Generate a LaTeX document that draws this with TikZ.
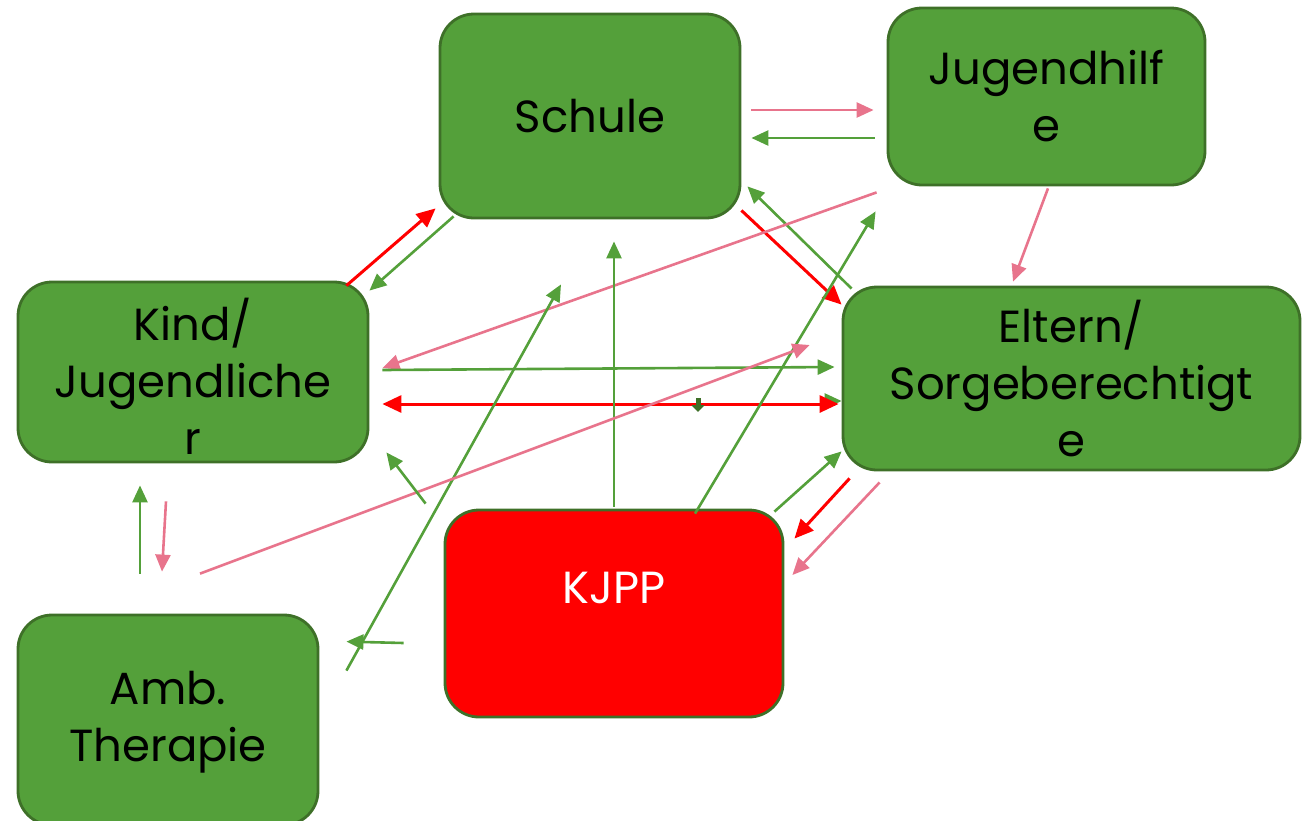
\documentclass[tikz,border=0pt]{standalone}
\usepackage{fontspec}
\setmainfont{Poppins}
\usetikzlibrary{arrows.meta,calc}
\definecolor{boxgreen}{RGB}{84,160,58}
\definecolor{boxborder}{RGB}{62,112,40}
\definecolor{lgreen}{RGB}{84,160,58}
\definecolor{lpink}{RGB}{232,116,140}
\definecolor{lred}{RGB}{255,0,0}
\tikzset{
  box/.style={draw=boxborder, line width=2.8pt, fill=boxgreen, rounded corners=34pt, font=\fontsize{45}{57}\selectfont, align=center, inner sep=0pt},
  ga/.style={draw=lgreen, line width=2.6pt, -{Triangle[length=17pt,width=15pt]}},
  pa/.style={draw=lpink, line width=2.6pt, -{Triangle[length=17pt,width=15pt]}},
  ra/.style={draw=lred, line width=3pt, -{Triangle[length=19pt,width=17pt]}},
}
\begin{document}
\begin{tikzpicture}[x=1pt,y=-1pt]
\useasboundingbox (0,0) rectangle (1309,820);
\node[box, minimum width=300pt, minimum height=204pt] (schule) at (590,116) {Schule};
\node[box, minimum width=317pt, minimum height=177pt] (jugend) at (1046.5,96.5) {Jugendhilf\\e};
\node[box, minimum width=350pt, minimum height=180pt] (kind) at (193,372) {};
\node[font=\fontsize{45}{57}\selectfont, align=center, inner sep=0pt] (kindtext) at (193,376) {Kind/\\Jugendliche\\r};
\node[box, minimum width=457pt, minimum height=183pt] (eltern) at (1071.5,378.5) {Eltern/\\Sorgeberechtigt\\e};
\node[box, fill=lred, minimum width=338pt, minimum height=207pt] (kjpp) at (614,613.5) {};
\node[font=\fontsize{45}{57}\selectfont, text=white] (kjpptext) at (614,588) {KJPP};
\node[box, minimum width=300pt, minimum height=210pt] (amb) at (168,720) {};
\node[font=\fontsize{45}{57}\selectfont, align=center, inner sep=0pt] (ambtext) at (168,722) {Amb.\\Therapie};

% arrows
\draw[ra] ($(kind.north east)+(-23,5)$) -- ($(schule.south west)+(-3,-11)$);
\draw[ga] ($(schule.south west)+(15,-3)$) -- ($(kind.north east)+(0,10)$);
\draw[pa] ($(schule.east)+(10,-6)$) -- ($(jugend.west)+(-13,13.5)$);
\draw[ga] ($(jugend.west)+(-12,41.5)$) -- ($(schule.east)+(10,22)$);
\draw[ra] ($(schule.south east)+(0,-9)$) -- ($(eltern.north west)+(0,19)$);
\draw[ga] ($(eltern.north west)+(10,3)$) -- ($(schule.south east)+(6,-33)$);
\draw[pa] ($(jugend.south west)+(-10,6)$) -- ($(kind.east)+(13,-4)$);
\draw[pa] ($(jugend.south)+(1.5,2)$) -- ($(eltern.north)+(-58.5,-4)$);
\draw[ga] ($(kind.east)+(13,-2)$) -- ($(eltern.west)+(-7,-11.5)$);
\draw[ga] ($(eltern.west)+(-14,22.5)$) -- ($(eltern.west)+(0,22.5)$);
\draw[ra, {Triangle[length=19pt,width=17pt]}-{Triangle[length=19pt,width=17pt]}] ($(kind.east)+(13,32)$) -- ($(eltern.west)+(-3,25.5)$);
\coordinate (m1) at (698,398);
\coordinate (m2) at (698,412);
\draw[draw=boxborder, line width=5pt, -{Triangle[length=7pt,width=13pt]}] (m1) -- (m2);
\draw[ga] ($(kjpp.north)+(0,-2)$) -- ($(schule.south)+(24,22)$);
\draw[ga] ($(kjpp.north)+(81,5)$) -- ($(jugend.south west)+(-11,25)$);
\draw[ga] ($(amb.north east)+(27,57)$) -- ($(schule.south)+(-29,65)$);
\draw[pa] ($(amb.north)+(32,-40)$) -- ($(eltern.west)+(-32,-33.5)$);
\draw[ga] ($(kjpp.north west)+(-18,-5)$) -- ($(kind.south east)+(17,-11)$);
\draw[ga] ($(kjpp.north east)+(-10,3)$) -- ($(eltern.south west)+(0,-20)$);
\draw[ra] ($(eltern.south west)+(8,7)$) -- ($(kjpp.north east)+(10,30)$);
\draw[pa] ($(eltern.south west)+(38,11)$) -- ($(kjpp.east)+(8,-38.5)$);
\draw[ga] ($(kjpp.west)+(-40,29.5)$) -- ($(amb.north east)+(27,28)$);
\draw[ga] ($(amb.north)+(-28,-40)$) -- ($(kind.south)+(-53,22)$);
\draw[pa] ($(kind.south)+(-27,38)$) -- ($(amb.north)+(-6,-42)$);
\end{tikzpicture}
\end{document}
